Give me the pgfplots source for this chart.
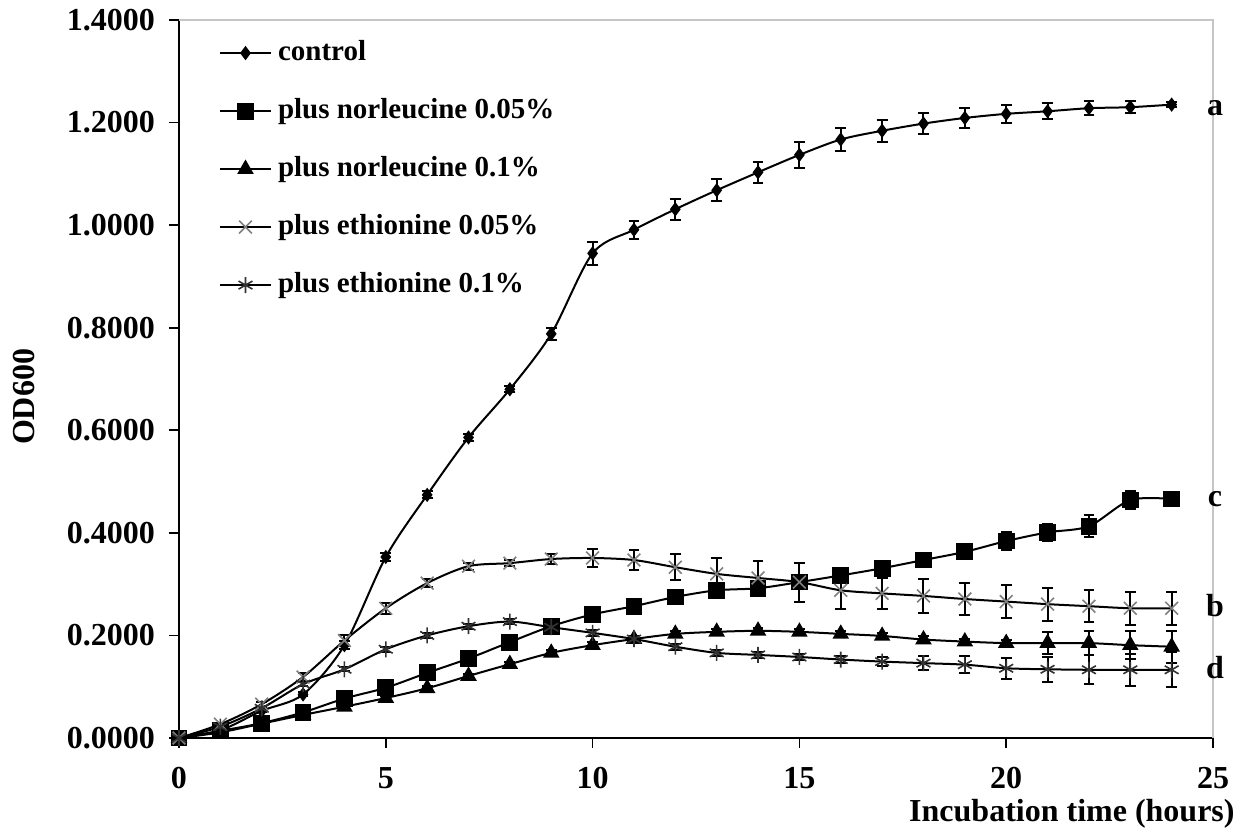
\documentclass[border=0pt]{standalone}
\usepackage{fontspec}
\setmainfont{Liberation Serif}
\usepackage{pgfplots}
\pgfplotsset{compat=1.18}
\begin{document}
\begin{tikzpicture}
\useasboundingbox (-89.5pt,-46.5pt) rectangle (533pt,369pt);
\begin{axis}[
  at={(0,0)}, anchor=south west,
  scale only axis, width=517pt, height=359pt,
  xmin=0, xmax=25, ymin=0, ymax=1.4,
  xtick={0,5,10,15,20,25},
  ytick={0,0.2,0.4,0.6,0.8,1.0,1.2,1.4},
  axis x line*=bottom, axis y line*=left,
  axis line style={line width=0.9pt, black, -},
  tick align=outside, major tick length=5pt,
  tick style={line width=0.8pt, black},
  clip=false,
  /pgf/number format/assume math mode=true,
  yticklabel style={/pgf/number format/.cd, fixed, fixed zerofill, precision=4, /tikz/.cd, xshift=-3.5pt},
  xticklabel style={yshift=-6pt},
  ticklabel style={font=\bfseries\fontsize{16}{18}\selectfont},
  xlabel={Incubation time (hours)},
  ylabel={OD600},
  every axis x label/.style={at={(rel axis cs:1,0)}, anchor=base east, inner sep=0pt, xshift=11pt, yshift=-41.5pt, font=\bfseries\fontsize{16}{18}\selectfont},
  every axis y label/.style={at={(rel axis cs:0,0.475)}, anchor=center, inner sep=0pt, xshift=-77.5pt, rotate=90, font=\bfseries\fontsize{16}{18}\selectfont},
  legend style={draw=none, fill=none, at={(rel axis cs:0.0387,0.972)}, anchor=north west,
    inner sep=0pt, outer sep=0pt, row sep=16pt,
    font=\bfseries\fontsize{14.5}{16}\selectfont,
    nodes={inner sep=0pt, text height=10pt, text depth=3pt},
    /tikz/every odd column/.append style={column sep=3pt}},
  legend cell align=left,
  legend image code/.code={\draw[mark repeat=2,mark phase=2,#1] plot coordinates {(0pt,0pt) (12.75pt,0pt) (25.5pt,0pt)};},
  every axis plot/.append style={line width=1pt, black, smooth, tension=0.5},
  error bars/y dir=both, error bars/y explicit,
  error bars/error bar style={line width=1pt, black},
  error bars/error mark options={rotate=90, mark size=2.7pt, line width=1pt, black},
]
\draw[gray!45, line width=0.6pt] (rel axis cs:0,1) -- (rel axis cs:1,1) -- (rel axis cs:1,0);

% control
\addplot[mark=diamond*, mark size=3.1pt, mark options={solid, fill=black, line width=0.6pt}] coordinates {
(0,0) +- (0,0)
(1,0.015) +- (0,0.002)
(2,0.053) +- (0,0.003)
(3,0.085) +- (0,0.004)
(4,0.181) +- (0,0.008)
(5,0.353) +- (0,0.008)
(6,0.474) +- (0,0.007)
(7,0.586) +- (0,0.006)
(8,0.680) +- (0,0.006)
(9,0.788) +- (0,0.012)
(10,0.945) +- (0,0.023)
(11,0.991) +- (0,0.018)
(12,1.031) +- (0,0.020)
(13,1.068) +- (0,0.021)
(14,1.103) +- (0,0.020)
(15,1.137) +- (0,0.026)
(16,1.167) +- (0,0.023)
(17,1.184) +- (0,0.021)
(18,1.198) +- (0,0.021)
(19,1.209) +- (0,0.019)
(20,1.217) +- (0,0.018)
(21,1.222) +- (0,0.016)
(22,1.228) +- (0,0.014)
(23,1.230) +- (0,0.012)
(24,1.235) +- (0,0.005)
};
\addlegendentry{control}

% norleucine 0.05%
\addplot[mark=square*, mark size=3.7pt, mark options={solid, fill=black}] coordinates {
(0,0) +- (0,0)
(1,0.014) +- (0,0.002)
(2,0.029) +- (0,0.003)
(3,0.050) +- (0,0.003)
(4,0.077) +- (0,0.004)
(5,0.098) +- (0,0.004)
(6,0.127) +- (0,0.005)
(7,0.155) +- (0,0.005)
(8,0.187) +- (0,0.006)
(9,0.218) +- (0,0.006)
(10,0.241) +- (0,0.006)
(11,0.257) +- (0,0.006)
(12,0.275) +- (0,0.007)
(13,0.288) +- (0,0.008)
(14,0.292) +- (0,0.008)
(15,0.304) +- (0,0.009)
(16,0.317) +- (0,0.010)
(17,0.331) +- (0,0.010)
(18,0.347) +- (0,0.011)
(19,0.363) +- (0,0.013)
(20,0.384) +- (0,0.018)
(21,0.401) +- (0,0.017)
(22,0.413) +- (0,0.021)
(23,0.464) +- (0,0.018)
(24,0.466) +- (0,0.002)
};
\addlegendentry{plus norleucine 0.05\%}

% norleucine 0.1%
\addplot[mark=triangle*, mark size=3.8pt, mark options={solid, fill=black}] coordinates {
(0,0) +- (0,0)
(1,0.011) +- (0,0.002)
(2,0.028) +- (0,0.002)
(3,0.045) +- (0,0.003)
(4,0.061) +- (0,0.003)
(5,0.078) +- (0,0.003)
(6,0.097) +- (0,0.004)
(7,0.121) +- (0,0.004)
(8,0.144) +- (0,0.005)
(9,0.166) +- (0,0.005)
(10,0.181) +- (0,0.006)
(11,0.193) +- (0,0.006)
(12,0.203) +- (0,0.006)
(13,0.207) +- (0,0.006)
(14,0.209) +- (0,0.006)
(15,0.207) +- (0,0.006)
(16,0.203) +- (0,0.006)
(17,0.199) +- (0,0.006)
(18,0.192) +- (0,0.006)
(19,0.188) +- (0,0.006)
(20,0.185) +- (0,0.007)
(21,0.185) +- (0,0.021)
(22,0.185) +- (0,0.024)
(23,0.181) +- (0,0.027)
(24,0.178) +- (0,0.031)
};
\addlegendentry{plus norleucine 0.1\%}

% ethionine 0.05%
\addplot[mark=x, mark size=4.5pt, mark options={solid, gray, line width=0.8pt}] coordinates {
(0,0) +- (0,0)
(1,0.027) +- (0,0.003)
(2,0.066) +- (0,0.004)
(3,0.119) +- (0,0.008)
(4,0.190) +- (0,0.010)
(5,0.253) +- (0,0.011)
(6,0.302) +- (0,0.008)
(7,0.335) +- (0,0.007)
(8,0.341) +- (0,0.006)
(9,0.349) +- (0,0.010)
(10,0.351) +- (0,0.017)
(11,0.347) +- (0,0.020)
(12,0.333) +- (0,0.025)
(13,0.320) +- (0,0.031)
(14,0.312) +- (0,0.034)
(15,0.304) +- (0,0.038)
(16,0.288) +- (0,0.037)
(17,0.282) +- (0,0.030)
(18,0.277) +- (0,0.034)
(19,0.271) +- (0,0.032)
(20,0.266) +- (0,0.032)
(21,0.261) +- (0,0.032)
(22,0.257) +- (0,0.031)
(23,0.253) +- (0,0.032)
(24,0.253) +- (0,0.032)
};
\addlegendentry{plus ethionine 0.05\%}

% ethionine 0.1%
\addplot[mark=asterisk, mark size=4pt, mark options={solid, black!80, line width=0.8pt}] coordinates {
(0,0) +- (0,0)
(1,0.022) +- (0,0.002)
(2,0.058) +- (0,0.003)
(3,0.105) +- (0,0.004)
(4,0.134) +- (0,0.004)
(5,0.173) +- (0,0.005)
(6,0.200) +- (0,0.005)
(7,0.218) +- (0,0.005)
(8,0.227) +- (0,0.005)
(9,0.216) +- (0,0.006)
(10,0.205) +- (0,0.006)
(11,0.193) +- (0,0.006)
(12,0.178) +- (0,0.006)
(13,0.166) +- (0,0.006)
(14,0.162) +- (0,0.006)
(15,0.158) +- (0,0.006)
(16,0.153) +- (0,0.007)
(17,0.149) +- (0,0.008)
(18,0.146) +- (0,0.014)
(19,0.143) +- (0,0.016)
(20,0.136) +- (0,0.020)
(21,0.134) +- (0,0.024)
(22,0.133) +- (0,0.028)
(23,0.133) +- (0,0.031)
(24,0.133) +- (0,0.034)
};
\addlegendentry{plus ethionine 0.1\%}

\node[font=\bfseries\fontsize{16}{18}\selectfont] at (axis cs:25.05,1.228) {a};
\node[font=\bfseries\fontsize{16}{18}\selectfont] at (axis cs:25.05,0.466) {c};
\node[font=\bfseries\fontsize{16}{18}\selectfont] at (axis cs:25.05,0.259) {b};
\node[font=\bfseries\fontsize{16}{18}\selectfont] at (axis cs:25.05,0.137) {d};
\end{axis}
\end{tikzpicture}
\end{document}
